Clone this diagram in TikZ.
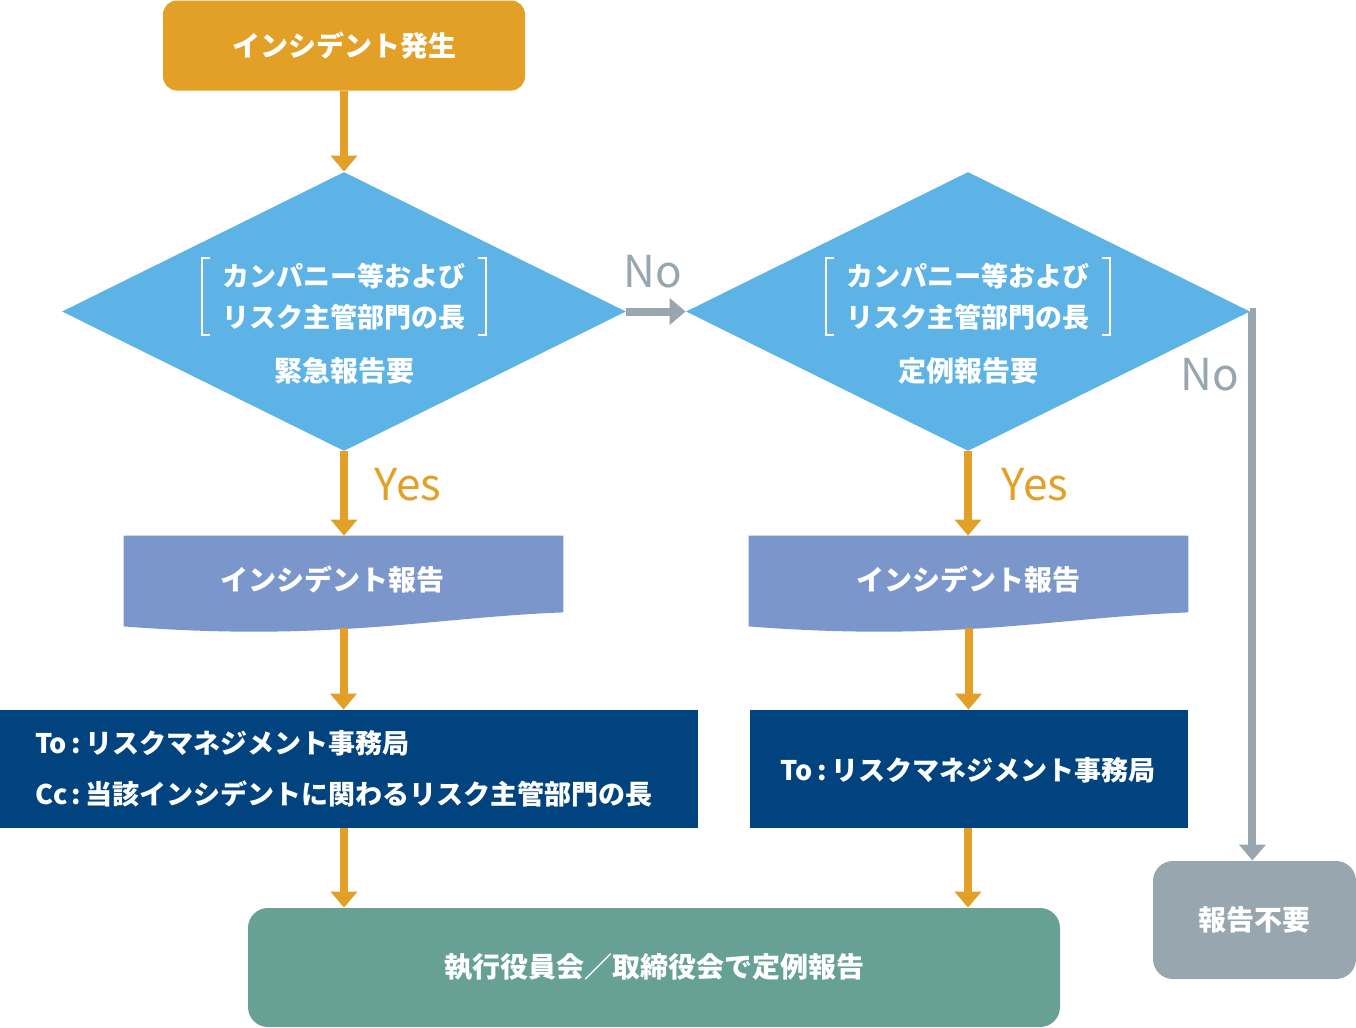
\documentclass[tikz,border=0pt]{standalone}
\usepackage{fontspec}
\setmainfont{Noto Sans CJK JP}
\usetikzlibrary{positioning, shapes.geometric, arrows.meta}
\definecolor{incident}{HTML}{E3A027}
\definecolor{qblue}{HTML}{5DB3E6}
\definecolor{docblue}{HTML}{7B96CB}
\definecolor{navy}{HTML}{00437E}
\definecolor{meeting}{HTML}{67A196}
\definecolor{skipgray}{HTML}{97A6AF}
\tikzset{
    box/.style={inner sep=0, text=white, font=\bfseries\fontsize{14pt}{20pt}\selectfont},
    startbox/.style={box, fill=incident, rounded corners=7pt, minimum width=181pt, minimum height=45pt},
    decision/.style={diamond, fill=qblue, inner sep=0, minimum width=282pt, minimum height=139.5pt},
    who/.style={box, font=\bfseries\fontsize{13.5pt}{20.5pt}\selectfont, align=center, inner xsep=10pt, minimum height=38.5pt},
    bracket/.style={draw=white, line width=1pt},
    docbox/.style={inner sep=0, minimum width=219.5pt, minimum height=38pt},
    mailbox/.style={box, fill=navy, minimum height=59pt},
    mailtext/.style={box, font=\bfseries\fontsize{13.5pt}{25.5pt}\selectfont, align=left},
    endbox/.style={box, fill=meeting, rounded corners=10pt, minimum width=406pt, minimum height=59.5pt},
    skipbox/.style={box, fill=skipgray, rounded corners=10pt, minimum width=101.5pt, minimum height=59pt},
    flow/.style={line width=4pt, draw=incident, -{Triangle[width=13pt,length=8pt]}},
    noflow/.style={flow, draw=skipgray},
    yes/.style={text=incident, font=\fontsize{22pt}{22pt}\selectfont},
    no/.style={yes, text=skipgray}
}
\begin{document}
\begin{tikzpicture}[x=0.5pt, y=-0.5pt]
\useasboundingbox (0,0) rectangle (1356,1028);
\node[startbox] (start) at (344,45.5) {インシデント発生};
\node[decision] (q1) at (344,311.5) {};
\node[decision] (q2) at (968,311.5) {};
\foreach \q/\t in {q1/緊急報告要, q2/定例報告要}{
    \node[who] (\q-who) at ([yshift=7.5pt]\q.center) {カンパニー等および\\リスク主管部門の長};
    \draw[bracket] ([xshift=4pt]\q-who.north west) -- (\q-who.north west) -- (\q-who.south west) -- ++(4pt,0);
    \draw[bracket] ([xshift=-4pt]\q-who.north east) -- (\q-who.north east) -- (\q-who.south east) -- ++(-4pt,0);
    \node[box] (\q-kind) at ([yshift=-29.75pt]\q.center) {\t};
}
\foreach \n/\x/\tx in {1/0/332, 2/625/968}{
    \node[docbox] (doc\n) at (343.5+\x,574) {};
    \fill[docblue] (doc\n.north west) -- (doc\n.north east) -- (doc\n.south east)
        .. controls +(-133,5) and +(206,16) .. ([yshift=-7pt]doc\n.south west) -- cycle;
    \node[box] (doc\n-t) at (\tx,580) {インシデント報告};
    \coordinate (doc\n-b) at ([yshift=-8pt]doc\n.south);
}
\node[mailbox, minimum width=349pt] (to1) at (349,769) {};
\node[mailtext, anchor=west] (to1-t) at ([xshift=17.5pt]to1.west) {To\,:\,リスクマネジメント事務局\\Cc\,:\,当該インシデントに関わるリスク主管部門の長};
\node[mailbox, minimum width=219pt] (to2) at (969,769) {};
\node[mailtext] (to2-t) at (968,770) {To\,:\,リスクマネジメント事務局};
\node[endbox] (report) at (654,967.5) {執行役員会／取締役会で定例報告};
\node[skipbox] (skip) at (1254.5,920) {報告不要};

\draw[flow] (start) -- (q1);
\draw[noflow] (q1.east) -- (q2.west);
\draw[noflow] (q2.east) -- ++(2,0) coordinate (turn) -- (turn |- skip.north);
\foreach \n in {1,2}{
    \draw[flow] (q\n.south) -- (doc\n.north -| q\n);
    \draw[flow] (doc\n-b) -- (doc\n-b |- to\n.north);
    \draw[flow] (to\n.south -| q\n) -- (report.north -| q\n);
}
\node[no] (no1) at (653,272) {No};
\node[no] (no2) at (1210,375) {No};
\node[yes] (yes1) at (408,485) {Yes};
\node[yes] (yes2) at (1035,485) {Yes};
\end{tikzpicture}
\end{document}
